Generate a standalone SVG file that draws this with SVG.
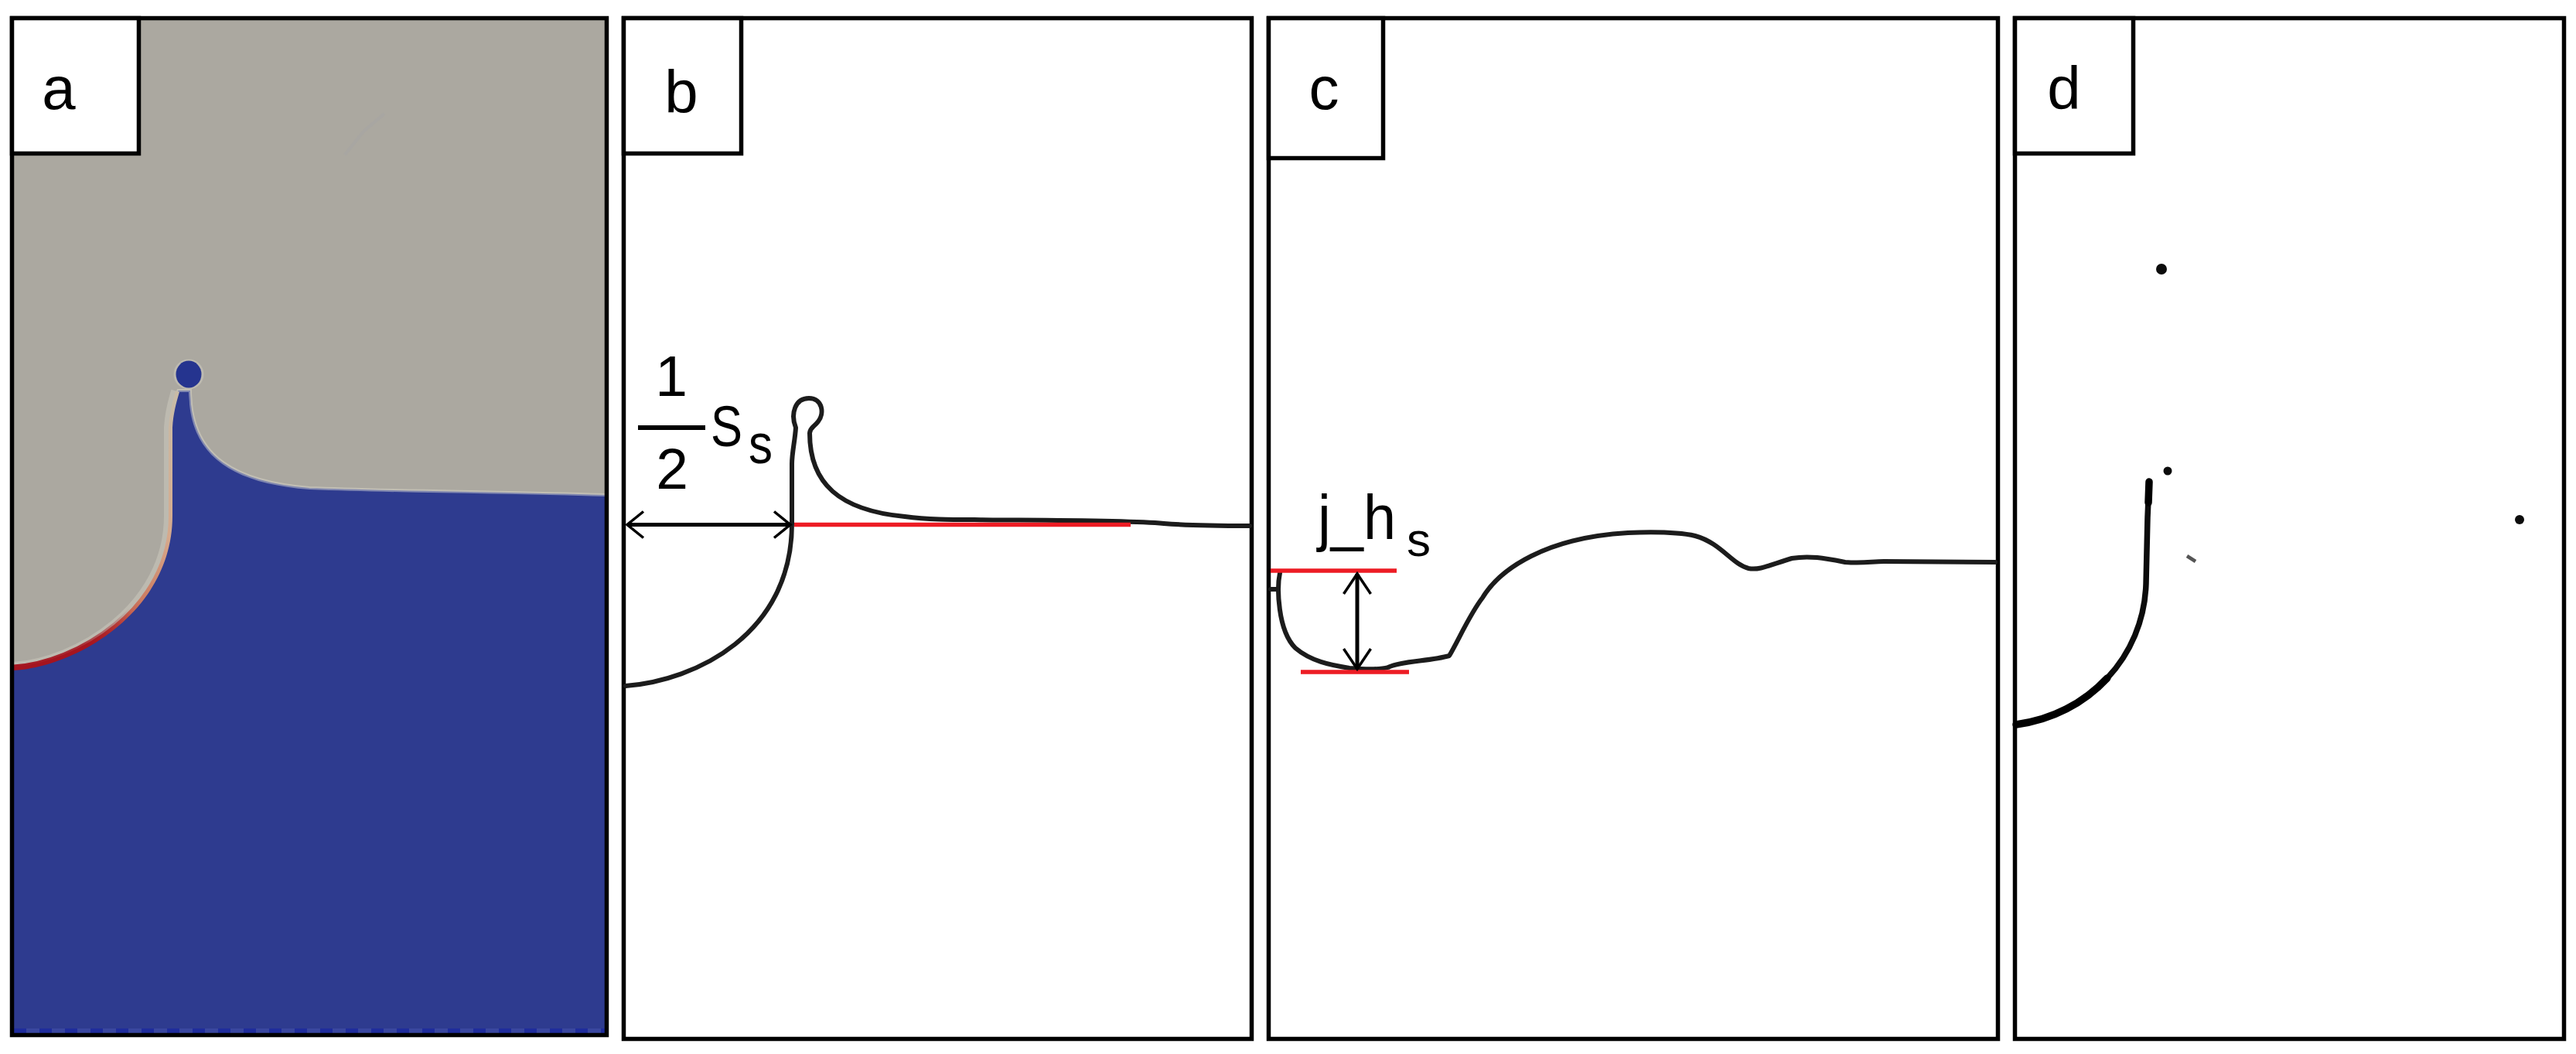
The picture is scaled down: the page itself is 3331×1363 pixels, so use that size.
<svg xmlns="http://www.w3.org/2000/svg" width="3331" height="1363" viewBox="0 0 3331 1363">
<style>
text{font-family:"Liberation Sans",Arial,sans-serif;fill:#000}
.lab{font-size:78px;text-anchor:middle}
.frame{fill:none;stroke:#000;stroke-width:5.500}
.box{fill:#fff;stroke:#000;stroke-width:5.500}
.curve{fill:none;stroke:#1c1c1c;stroke-width:6;stroke-linecap:round;stroke-linejoin:round}
.red{stroke:#ED1C24;stroke-width:5.500;fill:none}
.arrow{stroke:#000;stroke-width:5;fill:none}
.head{fill:none;stroke:#000;stroke-width:3.500}
.dot{fill:#0c0c0c}
</style>
<defs>
<marker id="headH" markerUnits="userSpaceOnUse" markerWidth="30" markerHeight="44" refX="24" refY="22" orient="auto-start-reverse" viewBox="0 0 30 44"><path class="head" d="M3 5L24 22L3 39"/></marker>
<marker id="headV" markerUnits="userSpaceOnUse" markerWidth="34" markerHeight="44" refX="29" refY="22" orient="auto-start-reverse" viewBox="0 0 34 44"><path class="head" d="M3 4.500L29 22L3 39.500"/></marker>
<linearGradient id="edge" gradientUnits="userSpaceOnUse" x1="18" y1="867" x2="223" y2="520">
<stop offset="0" stop-color="#8E1028"/><stop offset="0.2" stop-color="#AE1B22"/><stop offset="0.4" stop-color="#CC7A60"/><stop offset="0.62" stop-color="#D6A98C"/><stop offset="1" stop-color="#C9BBA6"/>
</linearGradient>
<linearGradient id="edgeDeep" gradientUnits="userSpaceOnUse" x1="18" y1="867" x2="170" y2="790">
<stop offset="0" stop-color="#A5141F"/><stop offset="0.55" stop-color="#A5141F" stop-opacity="0.85"/><stop offset="1" stop-color="#A5141F" stop-opacity="0"/>
</linearGradient>
<path id="water" d="M18 867C100 862 223 790 223 667L223 553C224 535 228 520 232 507L244 507C244 512 245 518 245 523C252 590 300 625 400 633C500 637 650 638 782 642L782 1336L18 1336Z"/>
<path id="wall" d="M18 867C100 862 223 790 223 667L223 553C224 535 228 520 232 507"/>
</defs>
<rect width="3331" height="1363" fill="#fff"/>

<g id="panel-a">
<rect x="15" y="23" width="770" height="1316" fill="#ABA8A0"/>
<path d="M497 147L470 170L446 200" fill="none" stroke="#A8A6A2" stroke-width="4"/>
<use href="#water" fill="none" stroke="#C2BFB4" stroke-width="8"/>
<use href="#water" fill="none" stroke="#7F86B0" stroke-width="4"/>
<use href="#wall" fill="none" stroke="#BDBAB0" stroke-width="22"/>
<use href="#wall" fill="none" stroke="url(#edge)" stroke-width="10"/>
<use href="#wall" fill="none" stroke="url(#edgeDeep)" stroke-width="15"/>
<circle cx="244" cy="484" r="19.500" fill="#BDBAB0"/>
<use href="#water" fill="#2E3B8F"/>
<ellipse cx="244" cy="484" rx="16.500" ry="17.500" fill="#25348F"/>
<rect x="18" y="1330" width="764" height="6" fill="#3A479F"/>
<path d="M18 1333H782" stroke="#1F2C9C" stroke-width="6" stroke-dasharray="16 17" fill="none"/>
<rect class="frame" x="15.500" y="23.500" width="769" height="1315"/>
<rect class="box" x="15.500" y="23.500" width="164" height="175"/>
<text class="lab" x="76" y="141">a</text>
</g>

<g id="panel-b">
<rect class="frame" x="806.500" y="23.500" width="812" height="1320"/>
<rect class="box" x="806.500" y="23.500" width="152" height="175"/>
<text class="lab" x="881" y="146">b</text>
<path class="curve" d="M809 887C900 880 1024 820 1024 677L1024 600C1024 585 1028 570 1029 553C1022 535 1028 515 1046 515C1064 515 1066 535 1058 545C1052 553 1048 552 1047 560C1047 625 1085 660 1170 668C1200 672 1228 672 1260 672C1300 673 1450 672 1505 677C1540 680 1580 680 1616 680"/>
<path class="red" d="M1027 678.500H1462"/>
<rect x="825" y="550" width="87" height="6"/>
<text x="868" y="512" font-size="75" text-anchor="middle">1</text>
<text x="869" y="632" font-size="75" text-anchor="middle">2</text>
<text x="919" y="577" font-size="75" textLength="41" lengthAdjust="spacingAndGlyphs">S</text>
<text x="968" y="599" font-size="72" textLength="31" lengthAdjust="spacingAndGlyphs">s</text>
</g>

<g id="panel-c">
<rect class="frame" x="1640.500" y="23.500" width="943" height="1320"/>
<rect class="box" x="1640.500" y="23.500" width="148" height="181"/>
<text class="lab" x="1712" y="141">c</text>
<path class="curve" d="M1643 762H1653M1655 741C1651 760 1652 815 1675 838C1695 855 1720 860 1745 864C1770 866 1785 866 1795 863C1810 855 1850 855 1874 848C1885 830 1900 795 1917 773C1940 735 2000 695 2105 689C2130 688 2170 688 2192 693C2225 702 2240 730 2261 735C2275 738 2290 730 2317 722C2340 718 2360 722 2386 727C2410 729 2420 726 2436 726L2580 727"/>
<path class="red" d="M1643 738H1806M1682 869H1822"/>
<text x="1704" y="697" font-size="82" textLength="101" lengthAdjust="spacingAndGlyphs">j_h</text>
<text x="1819" y="719" font-size="62" textLength="31" lengthAdjust="spacingAndGlyphs">s</text>
</g>

<g id="panel-d">
<rect class="frame" x="2605.500" y="23.500" width="710" height="1320"/>
<rect class="box" x="2605.500" y="23.500" width="153" height="175"/>
<text class="lab" x="2669" y="141">d</text>
<path class="curve" style="stroke:#0c0c0c;stroke-width:7.500" d="M2779 623L2777 669L2775 755C2772 850 2700 925 2607 937"/>
<path class="curve" style="stroke:#000;stroke-width:9.500" d="M2724.750 877C2694.750 909.250 2653.500 931 2607 937"/>
<path class="curve" style="stroke:#000;stroke-width:9.500" d="M2779 623L2778 650"/>
<circle class="dot" cx="2795" cy="348" r="7"/>
<circle class="dot" cx="2803" cy="609" r="5.500"/>
<circle class="dot" cx="3258" cy="672" r="6"/>
<path d="M2828 719L2839 726" stroke="#555" stroke-width="4.500" fill="none"/>
</g>

<g id="connectors">
<path class="arrow" d="M811 678.500H1022" marker-start="url(#headH)" marker-end="url(#headH)"/>
<path class="arrow" d="M1755 742V865" marker-start="url(#headV)" marker-end="url(#headV)"/>
</g>
</svg>
